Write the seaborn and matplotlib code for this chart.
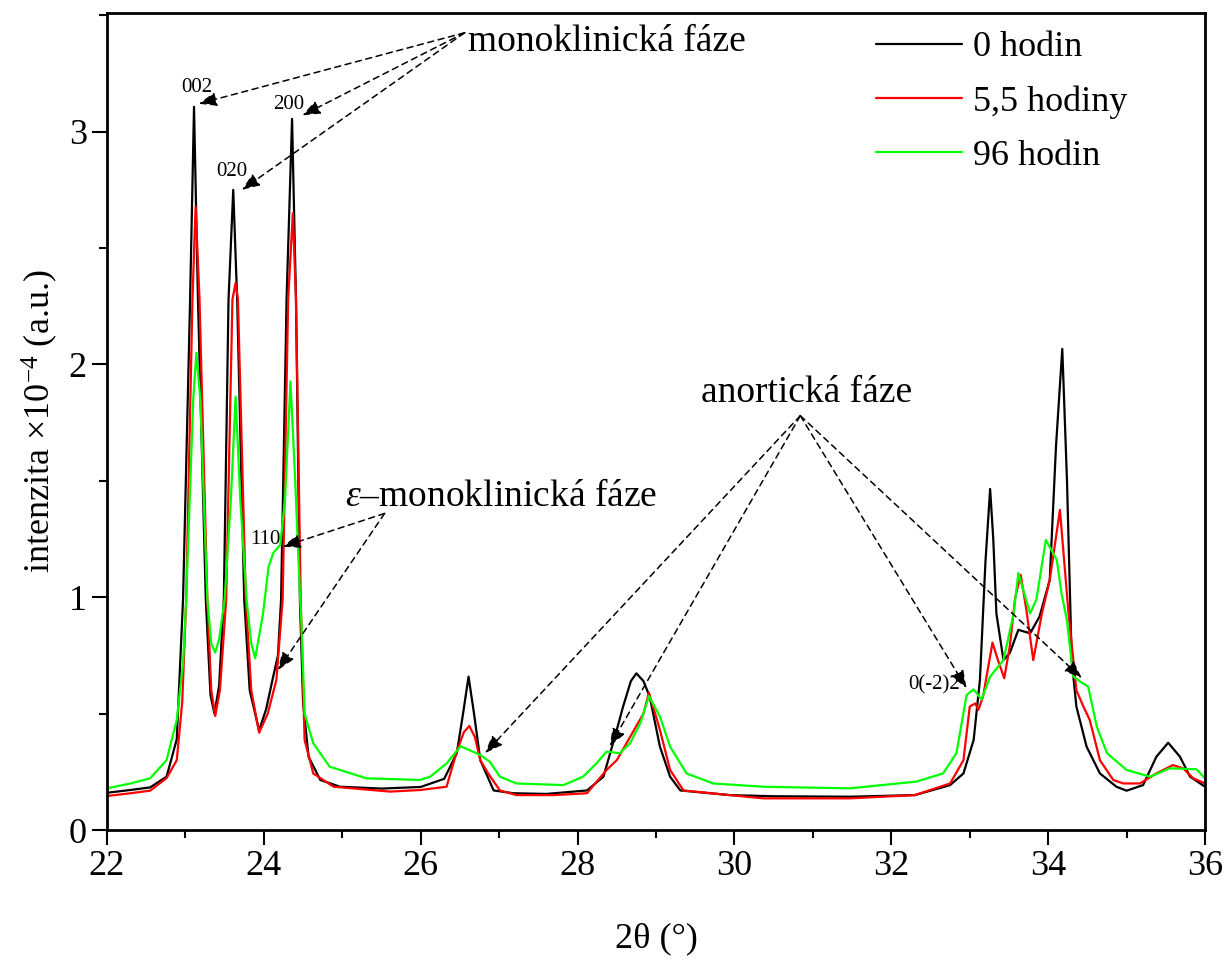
import matplotlib
matplotlib.use("Agg")
import matplotlib.pyplot as plt
import pandas as pd
import seaborn as sns

# 0 hodin (black)
x_0h = [22.00, 22.30, 22.55, 22.76, 22.89, 22.97, 23.06, 23.11, 23.16, 23.26, 23.32, 23.37,
        23.43, 23.49, 23.55, 23.61, 23.66, 23.75, 23.82, 23.94,
        24.03, 24.12, 24.18, 24.22, 24.29, 24.36, 24.41, 24.46, 24.50, 24.57, 24.72, 24.97,
        25.50, 26.00, 26.30, 26.46, 26.54, 26.61, 26.68, 26.76, 26.93, 27.18, 27.60,
        28.12, 28.33, 28.50, 28.58, 28.68, 28.75, 28.84, 28.92, 29.05, 29.18, 29.31, 29.94,
        30.50, 31.47, 32.30, 32.75, 32.92, 33.05, 33.13, 33.20, 33.26, 33.30, 33.34, 33.43,
        33.51, 33.62, 33.77, 33.89, 34.02, 34.10, 34.18, 34.24, 34.30, 34.36, 34.49, 34.66,
        34.87, 35.00, 35.21, 35.38, 35.53, 35.68, 35.81, 36.00]
y_0h = [0.160, 0.172, 0.183, 0.229, 0.390, 0.990, 2.280, 3.107, 2.280, 0.990, 0.580, 0.500,
        0.620, 0.990, 2.280, 2.750, 2.280, 0.990, 0.600, 0.427,
        0.520, 0.660, 0.750, 0.990, 2.280, 3.055, 2.280, 0.990, 0.550, 0.315, 0.215, 0.186,
        0.178, 0.185, 0.220, 0.330, 0.500, 0.659, 0.500, 0.300, 0.170, 0.158, 0.155,
        0.170, 0.229, 0.430, 0.530, 0.640, 0.673, 0.640, 0.573, 0.358, 0.229, 0.170, 0.150,
        0.145, 0.143, 0.150, 0.193, 0.243, 0.387, 0.645, 1.150, 1.465, 1.250, 0.930, 0.730,
        0.760, 0.860, 0.845, 0.917, 1.074, 1.650, 2.067, 1.500, 0.730, 0.530, 0.358, 0.243,
        0.186, 0.169, 0.193, 0.315, 0.375, 0.315, 0.229, 0.186]

# 5,5 hodiny (red)
x_55h = [22.00, 22.30, 22.55, 22.76, 22.89, 22.96, 23.01, 23.09, 23.13, 23.18, 23.28, 23.33, 23.38,
         23.44, 23.52, 23.60, 23.64, 23.67, 23.77, 23.84, 23.94,
         24.05, 24.16, 24.24, 24.31, 24.37, 24.41, 24.47, 24.52, 24.63, 24.89, 25.61, 26.00,
         26.33, 26.46, 26.55, 26.62, 26.69, 26.76, 26.86, 27.01, 27.22, 27.70,
         28.12, 28.37, 28.50, 28.67, 28.84, 28.91, 29.05, 29.18, 29.35, 29.94, 30.37, 31.47,
         32.30, 32.75, 32.92, 33.00, 33.07, 33.11, 33.17, 33.29, 33.36, 33.44, 33.51, 33.58,
         33.65, 33.72, 33.81, 33.92, 34.02, 34.15, 34.26, 34.36, 34.45, 34.53, 34.66, 34.83,
         34.96, 35.17, 35.38, 35.59, 35.72, 35.85, 36.00]
y_55h = [0.146, 0.158, 0.169, 0.223, 0.300, 0.550, 0.990, 2.280, 2.677, 2.280, 0.990, 0.600, 0.490,
         0.600, 0.990, 2.280, 2.350, 2.280, 0.990, 0.600, 0.418,
         0.500, 0.645, 0.990, 2.280, 2.650, 2.280, 0.990, 0.387, 0.243, 0.186, 0.165, 0.172,
         0.186, 0.337, 0.420, 0.447, 0.400, 0.300, 0.243, 0.170, 0.150, 0.150,
         0.158, 0.258, 0.300, 0.400, 0.500, 0.590, 0.430, 0.258, 0.170, 0.150, 0.136, 0.136,
         0.150, 0.200, 0.300, 0.530, 0.544, 0.516, 0.573, 0.805, 0.730, 0.652, 0.788, 1.000,
         1.096, 0.950, 0.730, 0.930, 1.074, 1.375, 0.930, 0.600, 0.530, 0.473, 0.300, 0.215,
         0.200, 0.200, 0.243, 0.279, 0.265, 0.222, 0.200]

# 96 hodin (green)
x_96h = [22.00, 22.30, 22.55, 22.76, 22.89, 22.97, 23.01, 23.10, 23.14, 23.19, 23.28, 23.33, 23.38,
         23.43, 23.50, 23.58, 23.64, 23.70, 23.78, 23.84, 23.89,
         23.99, 24.06, 24.12, 24.21, 24.27, 24.34, 24.40, 24.46, 24.48, 24.52, 24.63, 24.84,
         25.31, 25.99, 26.12, 26.33, 26.51, 26.76, 26.88, 27.01, 27.22, 27.82,
         28.07, 28.24, 28.37, 28.54, 28.67, 28.80, 28.91, 29.05, 29.18, 29.39, 29.73, 30.37,
         31.47, 32.32, 32.66, 32.83, 32.96, 33.05, 33.15, 33.26, 33.43, 33.56, 33.62, 33.77,
         33.85, 33.97, 34.11, 34.17, 34.24, 34.32, 34.41, 34.51, 34.62, 34.75, 35.00, 35.30,
         35.55, 35.89, 36.00]
y_96h = [0.179, 0.200, 0.222, 0.300, 0.473, 0.716, 0.990, 1.850, 2.050, 1.850, 0.990, 0.800, 0.762,
         0.820, 0.990, 1.420, 1.862, 1.420, 0.990, 0.800, 0.738,
         0.930, 1.130, 1.190, 1.225, 1.420, 1.927, 1.500, 1.017, 0.888, 0.500, 0.373, 0.272,
         0.222, 0.215, 0.229, 0.286, 0.360, 0.322, 0.294, 0.229, 0.200, 0.193,
         0.229, 0.286, 0.337, 0.330, 0.373, 0.459, 0.576, 0.487, 0.358, 0.243, 0.200, 0.186,
         0.179, 0.208, 0.243, 0.330, 0.580, 0.604, 0.561, 0.659, 0.730, 0.930, 1.104, 0.930,
         0.990, 1.246, 1.160, 1.017, 0.900, 0.659, 0.637, 0.616, 0.444, 0.330, 0.258, 0.229,
         0.265, 0.261, 0.222]

series_labels = ["0 hodin", "5,5 hodiny", "96 hodin"]
series_colors = ["#000000", "#ff0000", "#00ff00"]

x_ticks = [22, 24, 26, 28, 30, 32, 34, 36]
y_ticks = [0, 1, 2, 3]

frames = []
for lab, xs, ys in zip(series_labels, [x_0h, x_55h, x_96h], [y_0h, y_55h, y_96h]):
    frames.append(pd.DataFrame({"theta": xs, "intensity": ys, "cas": lab}))
df = pd.concat(frames, ignore_index=True)

sns.set_theme(style="ticks")
plt.rcParams["font.family"] = ["Liberation Serif", "DejaVu Serif"]
plt.rcParams["mathtext.fontset"] = "custom"
plt.rcParams["mathtext.rm"] = "Liberation Serif"
plt.rcParams["mathtext.it"] = "Liberation Serif:italic"
plt.rcParams["text.color"] = "black"
plt.rcParams["axes.labelcolor"] = "black"

fig = plt.figure(figsize=(12.28, 9.61), dpi=100)
ax = fig.add_axes([0.0871, 0.1363, 0.8942, 0.8502])

sns.lineplot(data=df, x="theta", y="intensity", hue="cas", palette=series_colors,
             hue_order=series_labels, estimator=None, sort=False, lw=1.6, ax=ax)

ax.set_xlim(22, 36)
ax.set_ylim(0, 3.51)
ax.set_xticks(x_ticks)
ax.set_yticks(y_ticks)
ax.set_xticks(range(23, 36, 2), minor=True)
ax.set_yticks([0.5, 1.5, 2.5, 3.5], minor=True)
ax.tick_params(axis="both", which="major", direction="out", length=11, width=1.5,
               labelsize=26, color="black", labelcolor="black")
ax.tick_params(axis="both", which="minor", direction="out", length=6, width=1.5, color="black")
for sp in ax.spines.values():
    sp.set_visible(True)
    sp.set_linewidth(2.0)
    sp.set_color("black")

ax.set_xlabel("2θ (°)", fontsize=26, labelpad=28, color="black")
ax.set_ylabel("intenzita ×10$^{-4}$ (a.u.)", fontsize=26, labelpad=6, color="black")

leg = ax.legend(loc="upper left", bbox_to_anchor=(0.70, 0.978), frameon=False, fontsize=26,
                handlelength=2.4, handletextpad=0.3, labelspacing=0.58, borderpad=0,
                borderaxespad=0)
for h in leg.get_lines():
    h.set_linewidth(1.6)
for t in leg.get_texts():
    t.set_color("black")

arrow = dict(arrowstyle="-|>,head_length=0.9,head_width=0.35", ls=(0, (4, 3)), lw=1.1,
             color="black", shrinkA=0, shrinkB=0, mutation_scale=12)

# monoklinická fáze
ax.text(26.6, 3.385, "monoklinická fáze", fontsize=27, va="center", ha="left", color="black")
for tx, ty in [(23.17, 3.12), (23.72, 2.75), (24.49, 3.07)]:
    ax.annotate("", xy=(tx, ty), xytext=(26.56, 3.425), arrowprops=arrow)
ax.text(23.14, 3.19, "002", fontsize=15, ha="center", va="center", color="black")
ax.text(23.59, 2.83, "020", fontsize=15, ha="center", va="center", color="black")
ax.text(24.32, 3.115, "200", fontsize=15, ha="center", va="center", color="black")

# epsilon-monoklinická fáze
ax.text(25.03, 1.43, r"$\varepsilon$–monoklinická fáze", fontsize=27, va="center", ha="left",
        color="black")
for tx, ty in [(24.24, 1.217), (24.18, 0.687)]:
    ax.annotate("", xy=(tx, ty), xytext=(25.54, 1.36), arrowprops=arrow)
ax.text(24.21, 1.246, "110", fontsize=15, ha="right", va="center", color="black")

# anortická fáze
ax.text(30.92, 1.88, "anortická fáze", fontsize=27, va="center", ha="center", color="black")
for tx, ty in [(26.82, 0.33), (28.41, 0.36), (32.96, 0.609), (34.43, 0.652)]:
    ax.annotate("", xy=(tx, ty), xytext=(30.84, 1.78), arrowprops=arrow)
ax.text(32.88, 0.623, "0(-2)2", fontsize=15, ha="right", va="center", color="black")

fig.savefig("out.png", dpi=100)
